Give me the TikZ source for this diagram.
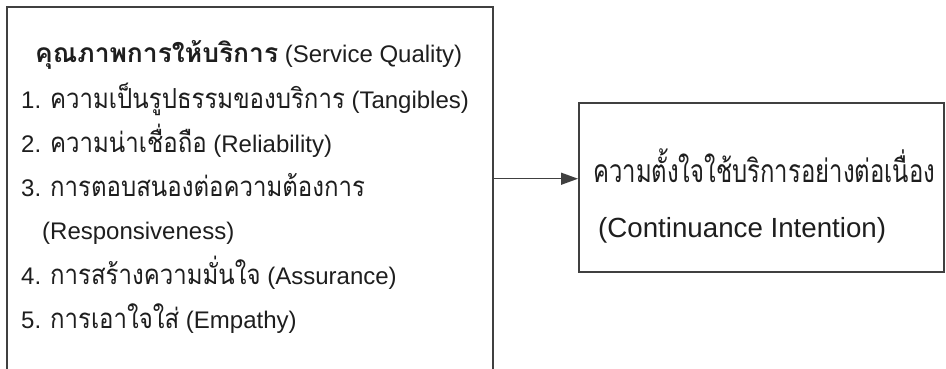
\documentclass[tikz,border=0pt]{standalone}
\usepackage{fontspec}
\setmainfont{Liberation Sans}
\newfontfamily\thaifont[Script=Thai,Scale=1.15,FakeStretch=0.87]{Loma}
\newfontfamily\thaititle[Script=Thai,Scale=1.1,FakeStretch=1.0]{Loma}
\newfontfamily\thairight[Script=Thai,Scale=1.15,FakeStretch=0.75]{Loma}
\newcommand{\tht}[1]{{\thaifont #1}}
\usetikzlibrary{arrows.meta,calc}
\definecolor{ink}{HTML}{1E1E1E}
\definecolor{edge}{HTML}{404040}
\tikzset{
  boxnode/.style={draw=edge, line width=1.5pt, inner sep=0pt},
  ltext/.style={anchor=base west, inner sep=0pt, text=ink, font=\fontsize{24}{28}\selectfont},
  rtext/.style={anchor=base west, inner sep=0pt, text=ink, font=\fontsize{27.7}{32}\selectfont},
  conn/.style={draw=edge, line width=1.5pt, -{Triangle[length=17pt,width=12pt]}}
}
\begin{document}
\begin{tikzpicture}[x=1pt,y=-1pt]
\clip (0,0) rectangle (946,368);
\node[boxnode, anchor=north west, minimum width=486pt, minimum height=380pt] (lbox) at (6,6) {};
\node[boxnode, anchor=north west, minimum width=365pt, minimum height=169pt] (rbox) at (578,102) {};
\node[ltext] (title) at (35,62) {{\thaititle\bfseries คุณภาพการให้บริการ} (Service Quality)};
\node[ltext] (i1) at (21,108) {1. \tht{ความเป็นรูปธรรมของบริการ} (Tangibles)};
\node[ltext] (i2) at (21,152) {2. \tht{ความน่าเชื่อถือ} (Reliability)};
\node[ltext] (i3) at (21,196) {3. \tht{การตอบสนองต่อความต้องการ}};
\node[ltext] (i3b) at (42,239) {(Responsiveness)};
\node[ltext] (i4) at (21,284) {4. \tht{การสร้างความมั่นใจ} (Assurance)};
\node[ltext] (i5) at (21,328) {5. \tht{การเอาใจใส่} (Empathy)};
\node[rtext] (r1) at (593,182) {\thairight ความตั้งใจใช้บริการอย่างต่อเนื่อง};
\node[rtext] (r2) at (598,237) {(Continuance Intention)};
\coordinate (tip) at ($(rbox.north west)!0.45!(rbox.south west)$);
\draw[conn] (lbox.east |- tip) -- (tip);
\end{tikzpicture}
\end{document}
